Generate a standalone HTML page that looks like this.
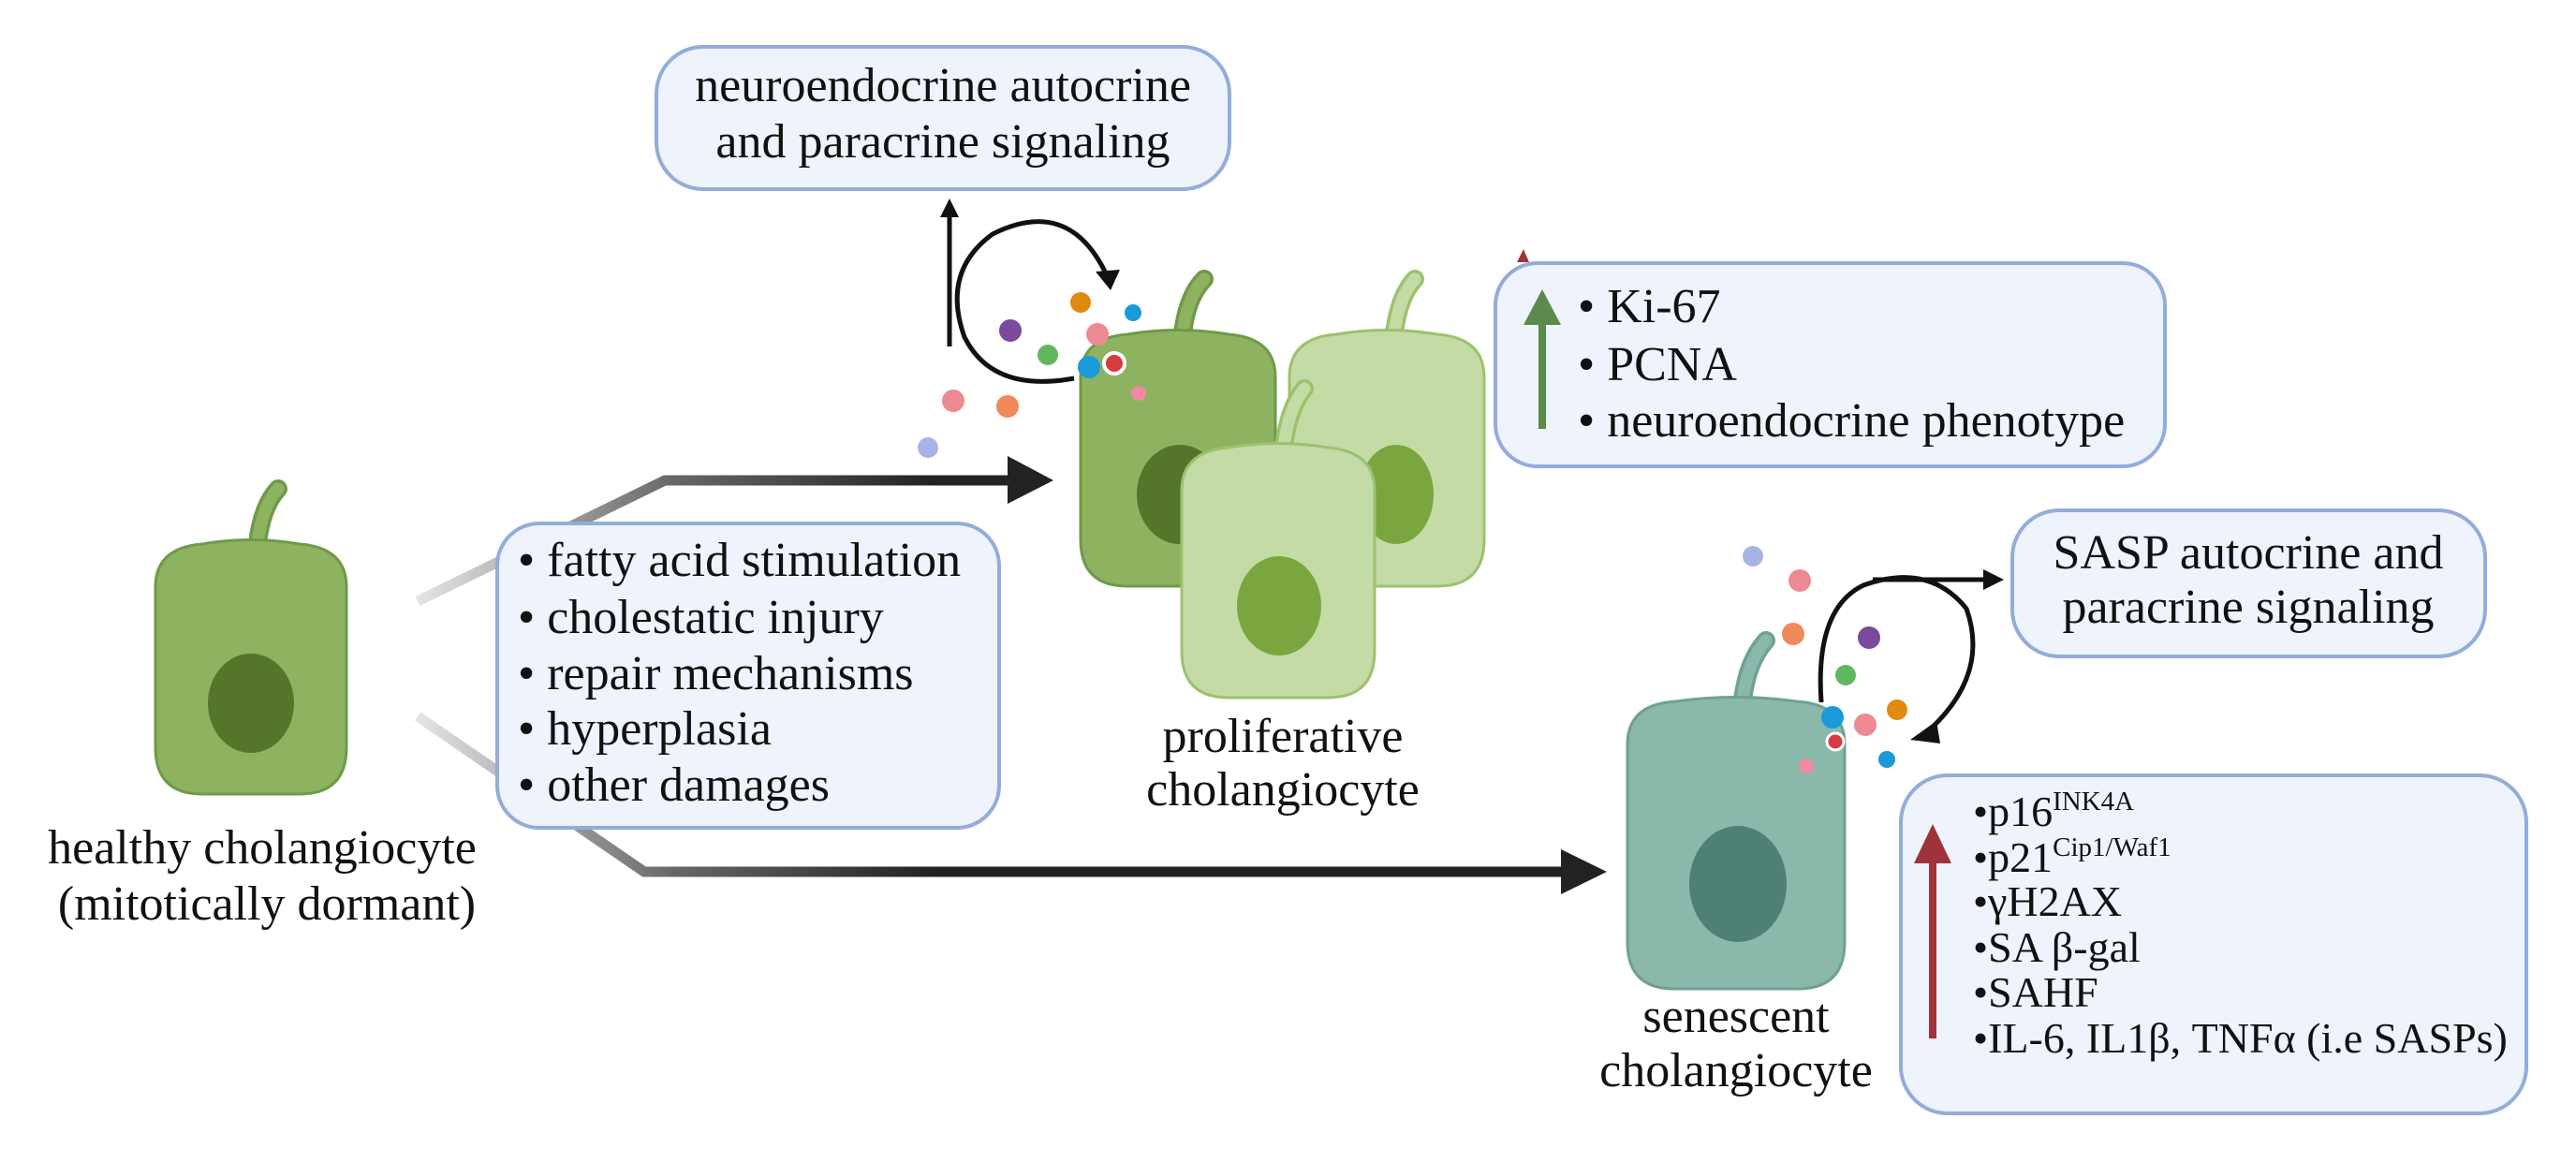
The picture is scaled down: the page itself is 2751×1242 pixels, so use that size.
<!DOCTYPE html>
<html><head><meta charset="utf-8"><style>
html,body{margin:0;padding:0;background:#fff;}
svg{display:block;}
text{font-family:"Liberation Serif",serif;fill:#111;}
</style></head><body>
<svg width="2751" height="1242" viewBox="0 0 2751 1242" xmlns="http://www.w3.org/2000/svg">
<defs>
<linearGradient id="g1" gradientUnits="userSpaceOnUse" x1="446" y1="0" x2="1000" y2="0">
<stop offset="0" stop-color="#e4e4e4"/><stop offset="0.5" stop-color="#666"/><stop offset="1" stop-color="#222"/></linearGradient>
</defs>

<rect x="701" y="50" width="612" height="152" rx="50" fill="#eef3fc" stroke="#93acdb" stroke-width="4"/>
<text x="1007" y="108" font-size="52" text-anchor="middle">neuroendocrine autocrine</text>
<text x="1007" y="168" font-size="52" text-anchor="middle">and paracrine signaling</text>

<path d="M446 642 L710 513 L1080 513" fill="none" stroke="url(#g1)" stroke-width="11"/>
<polygon points="1076,487 1125,513 1076,538" fill="#222"/>
<path d="M446 765 L688 931 L1670 931" fill="none" stroke="url(#g1)" stroke-width="11"/>
<polygon points="1667,907 1716,931 1667,955" fill="#222"/>

<rect x="531" y="559" width="536" height="325" rx="45" fill="#eef3fc" stroke="#93acdb" stroke-width="4"/>
<g font-size="52">
<text x="553" y="615">• fatty acid stimulation</text>
<text x="553" y="676">• cholestatic injury</text>
<text x="553" y="736">• repair mechanisms</text>
<text x="553" y="795">• hyperplasia</text>
<text x="553" y="855">• other damages</text>
</g>

<path d="M275 580 Q280 540 297 522" fill="none" stroke="#6f9a48" stroke-width="20" stroke-linecap="round"/>
<path d="M275 580 Q280 540 297 522" fill="none" stroke="#8db360" stroke-width="13" stroke-linecap="round"/>
<path d="M166 798 L166 627 Q166 585 216 581 Q268 572 320 581 Q370 585 370 627 L370 798 Q370 848 320 848 L216 848 Q166 848 166 798 Z" fill="#8db360" stroke="#6f9a48" stroke-width="3"/>
<ellipse cx="268" cy="751" rx="46" ry="53" fill="#55752a"/>
<text x="280" y="922" font-size="52" text-anchor="middle">healthy cholangiocyte</text>
<text x="285" y="982" font-size="52" text-anchor="middle">(mitotically dormant)</text>

<path d="M1489 356 Q1494 316 1511 298" fill="none" stroke="#9cc26e" stroke-width="20" stroke-linecap="round"/>
<path d="M1489 356 Q1494 316 1511 298" fill="none" stroke="#c5dba6" stroke-width="13" stroke-linecap="round"/>
<path d="M1377 576 L1377 403 Q1377 361 1427 357 Q1481 348 1535 357 Q1585 361 1585 403 L1585 576 Q1585 626 1535 626 L1427 626 Q1377 626 1377 576 Z" fill="#c5dba6" stroke="#9cc26e" stroke-width="3"/>
<ellipse cx="1491" cy="528" rx="40" ry="53" fill="#7aa63f"/>

<path d="M1263 356 Q1268 316 1286 298" fill="none" stroke="#6f9a48" stroke-width="20" stroke-linecap="round"/>
<path d="M1263 356 Q1268 316 1286 298" fill="none" stroke="#8db360" stroke-width="13" stroke-linecap="round"/>
<path d="M1154 576 L1154 403 Q1154 361 1204 357 Q1258 348 1312 357 Q1362 361 1362 403 L1362 576 Q1362 626 1312 626 L1204 626 Q1154 626 1154 576 Z" fill="#8db360" stroke="#6f9a48" stroke-width="3"/>
<ellipse cx="1260" cy="528" rx="46" ry="53" fill="#55752a"/>

<path d="M1371 477 Q1376 436 1393 415" fill="none" stroke="#9cc26e" stroke-width="20" stroke-linecap="round"/>
<path d="M1371 477 Q1376 436 1393 415" fill="none" stroke="#c5dba6" stroke-width="13" stroke-linecap="round"/>
<path d="M1262 695 L1262 524 Q1262 482 1312 478 Q1365 469 1418 478 Q1468 482 1468 524 L1468 695 Q1468 745 1418 745 L1312 745 Q1262 745 1262 695 Z" fill="#c5dba6" stroke="#9cc26e" stroke-width="3"/>
<ellipse cx="1366" cy="647" rx="45" ry="53" fill="#7aa63f"/>
<text x="1370" y="803" font-size="52" text-anchor="middle">proliferative</text>
<text x="1370" y="860" font-size="52" text-anchor="middle">cholangiocyte</text>

<path d="M1147 404 Q1060 420 1030 360 Q1005 290 1060 250 Q1140 210 1180 290" fill="none" stroke="#111" stroke-width="5"/>
<polygon points="1170,290 1196,288 1186,310" fill="#111"/>
<line x1="1014" y1="370" x2="1014" y2="228" stroke="#111" stroke-width="5"/>
<polygon points="1004,232 1014,212 1024,232" fill="#111"/>

<polygon points="1620,280 1627,266 1633,280" fill="#a0323a"/>
<rect x="1597" y="281" width="715" height="217" rx="45" fill="#eef3fc" stroke="#93acdb" stroke-width="4"/>
<line x1="1647" y1="335" x2="1647" y2="458" stroke="#5b8a4a" stroke-width="8"/>
<polygon points="1627,347 1647,309 1667,347" fill="#5b8a4a"/>
<g font-size="52">
<text x="1685" y="344">• Ki-67</text>
<text x="1685" y="406">• PCNA</text>
<text x="1685" y="466">• neuroendocrine phenotype</text>
</g>

<rect x="2149" y="545" width="505" height="156" rx="50" fill="#eef3fc" stroke="#93acdb" stroke-width="4"/>
<text x="2401" y="607" font-size="52" text-anchor="middle">SASP autocrine and</text>
<text x="2401" y="665" font-size="52" text-anchor="middle">paracrine signaling</text>

<path d="M1861 748 Q1866 706 1886 684" fill="none" stroke="#6fa194" stroke-width="20" stroke-linecap="round"/>
<path d="M1861 748 Q1866 706 1886 684" fill="none" stroke="#8ab8aa" stroke-width="13" stroke-linecap="round"/>
<path d="M1738 1006 L1738 795 Q1738 752 1790 749 Q1854 740 1918 749 Q1970 752 1970 795 L1970 1006 Q1970 1056 1920 1056 L1788 1056 Q1738 1056 1738 1006 Z" fill="#8ab8aa" stroke="#6fa194" stroke-width="3"/>
<ellipse cx="1856" cy="944" rx="52" ry="62" fill="#4e8073"/>
<text x="1854" y="1102" font-size="52" text-anchor="middle">senescent</text>
<text x="1854" y="1160" font-size="52" text-anchor="middle">cholangiocyte</text>

<path d="M1945 750 Q1938 650 1990 625 Q2060 600 2100 650 Q2125 720 2060 780" fill="none" stroke="#111" stroke-width="5"/>
<polygon points="2068,770 2040,790 2072,794" fill="#111"/>
<line x1="2000" y1="619" x2="2120" y2="619" stroke="#111" stroke-width="5"/>
<polygon points="2118,608 2140,619 2118,630" fill="#111"/>

<rect x="2030" y="828" width="668" height="361" rx="50" fill="#eef3fc" stroke="#93acdb" stroke-width="4"/>
<line x1="2064" y1="915" x2="2064" y2="1109" stroke="#a0323a" stroke-width="8"/>
<polygon points="2044,922 2064,880 2084,922" fill="#a0323a"/>
<g font-size="46">
<text x="2107" y="882">•p16<tspan font-size="29" dy="-17">INK4A</tspan></text>
<text x="2107" y="931">•p21<tspan font-size="29" dy="-17">Cip1/Waf1</tspan></text>
<text x="2107" y="978">•γH2AX</text>
<text x="2107" y="1027">•SA β-gal</text>
<text x="2107" y="1075">•SAHF</text>
<text x="2107" y="1124">•IL-6, IL1β, TNFα (i.e SASPs)</text>
</g>

<g stroke-width="1.5">
<circle cx="1154" cy="323" r="11" fill="#e08a10"/>
<circle cx="1210" cy="334" r="9" fill="#1a9ad8"/>
<circle cx="1079" cy="353" r="12" fill="#7b4a9a"/>
<circle cx="1172" cy="357" r="12" fill="#ec8a92"/>
<circle cx="1119" cy="379" r="11" fill="#5fb85f"/>
<circle cx="1163" cy="392" r="12" fill="#1a9ad8"/>
<circle cx="1190" cy="388" r="11" fill="#d83a40" stroke="#fff" stroke-width="4"/>
<circle cx="1216" cy="420" r="8" fill="#f08aa0"/>
<circle cx="1018" cy="428" r="12" fill="#ec8a92"/>
<circle cx="1076" cy="434" r="12" fill="#f08a5a"/>
<circle cx="991" cy="478" r="11" fill="#a8b4e4"/>
<circle cx="1872" cy="594" r="11" fill="#a8b4e4"/>
<circle cx="1922" cy="620" r="12" fill="#ec8a92"/>
<circle cx="1915" cy="677" r="12" fill="#f08a5a"/>
<circle cx="1996" cy="681" r="12" fill="#7b4a9a"/>
<circle cx="1971" cy="721" r="11" fill="#5fb85f"/>
<circle cx="1957" cy="766" r="12" fill="#1a9ad8"/>
<circle cx="1992" cy="774" r="12" fill="#ec8a92"/>
<circle cx="2026" cy="758" r="11" fill="#e08a10"/>
<circle cx="1960" cy="792" r="9" fill="#d83a40" stroke="#fff" stroke-width="3"/>
<circle cx="1929" cy="818" r="8" fill="#f08aa0"/>
<circle cx="2015" cy="811" r="9" fill="#1a9ad8"/>
</g>
</svg>
</body></html>
